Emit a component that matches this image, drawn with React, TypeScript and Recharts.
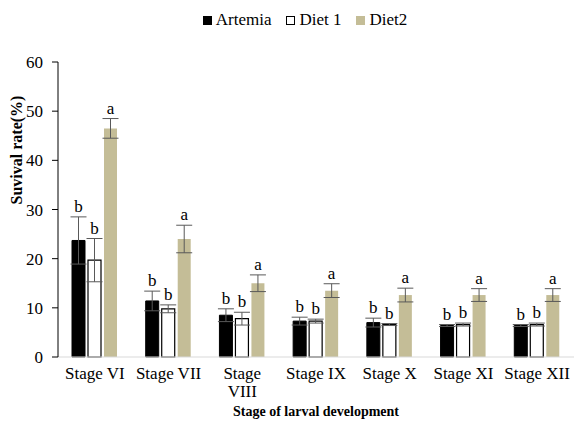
import React from "react";
import {
  BarChart, Bar, XAxis, YAxis, ErrorBar, LabelList, Text,
} from "recharts";

const categories = ["Stage VI", "Stage VII", "Stage VIII", "Stage IX", "Stage X", "Stage XI", "Stage XII"];
const artemia = [23.7, 11.4, 8.5, 7.3, 7.0, 6.4, 6.4];
const artemiaErr = [4.8, 2.0, 1.3, 0.8, 0.9, 0.2, 0.2];
const diet1 = [19.7, 9.8, 7.8, 7.3, 6.6, 6.6, 6.6];
const diet1Err = [4.4, 0.8, 1.3, 0.4, 0.2, 0.3, 0.3];
const diet2 = [46.5, 24.0, 15.0, 13.5, 12.6, 12.6, 12.6];
const diet2Err = [2.0, 2.8, 1.7, 1.4, 1.4, 1.3, 1.3];
const artemiaLetters = ["b", "b", "b", "b", "b", "b", "b"];
const diet1Letters = ["b", "b", "b", "b", "b", "b", "b"];
const diet2Letters = ["a", "a", "a", "a", "a", "a", "a"];
const yTicks = [0, 10, 20, 30, 40, 50, 60];

const FONT = '"Liberation Serif", "Times New Roman", serif';

const data = categories.map((stage, i) => ({
  stage,
  artemia: artemia[i],
  artemiaErr: artemiaErr[i],
  diet1: diet1[i],
  diet1Err: diet1Err[i],
  diet2: diet2[i],
  diet2Err: diet2Err[i],
}));

// y pixel per unit, used only to lift the letters above the error caps
const PLOT_TOP = 62;
const PLOT_BOTTOM = 357;
const pxPerUnit = (PLOT_BOTTOM - PLOT_TOP) / 60;

const letterLabel = (letters: string[], errs: number[]) => (props: any) => {
  const { x, y, width, index } = props;
  const lift = errs[index] * pxPerUnit;
  return (
    <text
      x={x + width / 2}
      y={y - lift - 5}
      textAnchor="middle"
      fontFamily={FONT}
      fontSize={17}
      fill="#000"
    >
      {letters[index]}
    </text>
  );
};

const StageTick = (props: any) => {
  const { x, y, payload } = props;
  return (
    <Text
      x={x}
      y={y + 2}
      width={67}
      textAnchor="middle"
      verticalAnchor="start"
      fontFamily={FONT}
      fontSize={17}
      fill="#000"
      lineHeight={18}
    >
      {payload.value}
    </Text>
  );
};

const LegendItem = ({ color, border, label }: { color: string; border?: string; label: string }) => (
  <span style={{ display: "flex", alignItems: "center", gap: 4 }}>
    <span style={{
      width: 9, height: 9, background: color, display: "inline-block",
      boxSizing: "border-box", border: border ? `1px solid ${border}` : "none",
    }} />
    {label}
  </span>
);

export default function App() {
  return (
    <div style={{ position: "absolute", left: 0, top: 0, width: 574, height: 426, background: "#fff" }}>
      <div style={{
        position: "absolute", top: 10, left: 0, width: 574, display: "flex",
        justifyContent: "center", gap: 15, paddingLeft: 36, boxSizing: "border-box",
        fontFamily: FONT, fontSize: 17, color: "#000",
      }}>
        <LegendItem color="#000" label="Artemia" />
        <LegendItem color="#fff" border="#000" label="Diet 1" />
        <LegendItem color="#c4bd97" label="Diet2" />
      </div>
      <BarChart
        width={574}
        height={426}
        data={data}
        margin={{ top: PLOT_TOP, right: 0, left: 0, bottom: 0 }}
        barSize={13}
        barGap={3}
      >
        <XAxis
          dataKey="stage"
          height={426 - PLOT_BOTTOM}
          tick={<StageTick />}
          tickLine={false}
          axisLine={{ stroke: "#d9d9d9" }}
          interval={0}
          label={(p: any) => (
            <text
              x={p.viewBox.x + p.viewBox.width / 2}
              y={416}
              textAnchor="middle"
              fontFamily={FONT}
              fontWeight="bold"
              fontSize={14}
              fill="#000"
            >
              Stage of larval development
            </text>
          )}
        />
        <YAxis
          width={58}
          domain={[0, 60]}
          ticks={yTicks}
          tickSize={6}
          tickMargin={9}
          tick={{ fill: "#000", fontSize: 17, fontFamily: FONT }}
          tickLine={{ stroke: "#000" }}
          axisLine={{ stroke: "#000" }}
          label={() => (
            <text
              x={22}
              y={150}
              transform="rotate(-90, 22, 150)"
              textAnchor="middle"
              fontFamily={FONT}
              fontWeight="bold"
              fontSize={16}
              fill="#000"
            >
              Suvival rate(%)
            </text>
          )}
        />
        <Bar dataKey="artemia" fill="#000" stroke="#000" isAnimationActive={false}>
          <ErrorBar dataKey="artemiaErr" width={8} stroke="#595959" strokeWidth={1} />
          <LabelList dataKey="artemia" content={letterLabel(artemiaLetters, artemiaErr)} />
        </Bar>
        <Bar dataKey="diet1" fill="#fff" stroke="#000" strokeWidth={1.2} isAnimationActive={false}>
          <ErrorBar dataKey="diet1Err" width={8} stroke="#595959" strokeWidth={1} />
          <LabelList dataKey="diet1" content={letterLabel(diet1Letters, diet1Err)} />
        </Bar>
        <Bar dataKey="diet2" fill="#c4bd97" isAnimationActive={false}>
          <ErrorBar dataKey="diet2Err" width={8} stroke="#595959" strokeWidth={1} />
          <LabelList dataKey="diet2" content={letterLabel(diet2Letters, diet2Err)} />
        </Bar>
      </BarChart>
    </div>
  );
}
